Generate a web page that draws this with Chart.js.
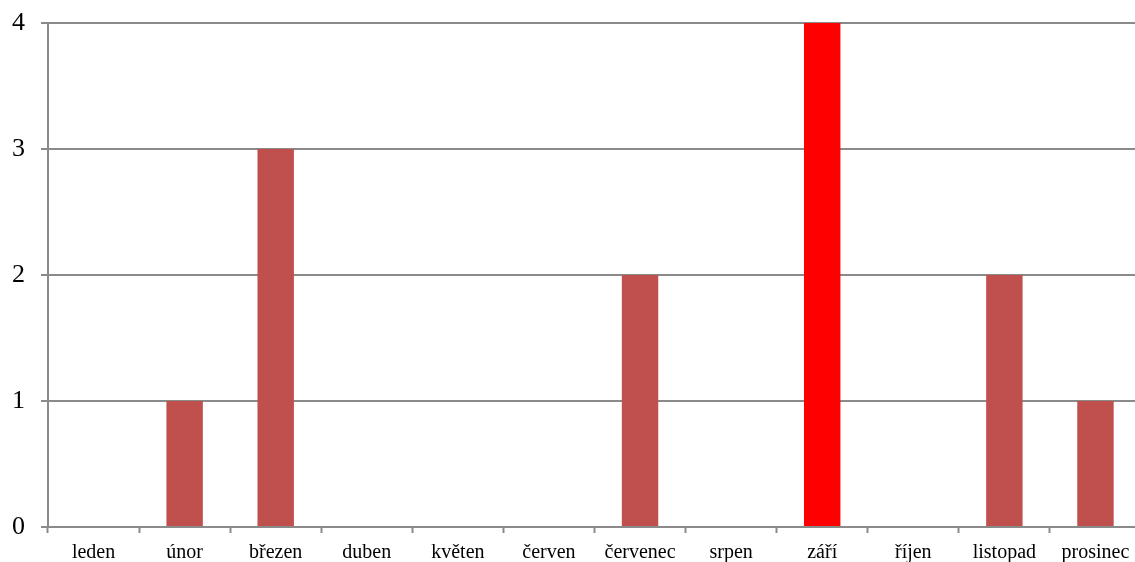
<!DOCTYPE html>
<html>
<head>
<meta charset="utf-8">
<script src="https://cdn.jsdelivr.net/npm/chart.js@4"></script>
<style>
  html, body { margin: 0; padding: 0; background: #fff; overflow: hidden; }
  #wrap { width: 1142px; height: 562px; }
</style>
</head>
<body>
<div id="wrap"><canvas id="c" width="1142" height="562"></canvas></div>
<script>
const months = ["leden", "únor", "březen", "duben", "květen", "červen", "červenec", "srpen", "září", "říjen", "listopad", "prosinec"];
const counts = [0, 1, 3, 0, 0, 0, 2, 0, 4, 0, 2, 1];
const yTicks = [0, 1, 2, 3, 4];

const highlight = 8; // září
const barColors = counts.map((v, i) => (i === highlight ? "#FF0000" : "#C0504D"));
const gridColor = "#8a8a8a";

const canvas = document.getElementById("c");
const chart = new Chart(canvas, {
    type: "bar",
    data: {
        labels: months,
        datasets: [
            {
                data: counts,
                backgroundColor: barColors,
                borderWidth: 0,
                barPercentage: 0.4,
                categoryPercentage: 1
            }
        ]
    },
    options: {
        responsive: false,
        animation: false,
        layout: { padding: { top: 23, right: 1, left: 0, bottom: 0 } },
        plugins: {
            legend: { display: false },
            tooltip: { enabled: false }
        },
        scales: {
            x: {
                grid: {
                    offset: true,
                    drawOnChartArea: false,
                    tickLength: 6,
                    tickColor: gridColor,
                    tickWidth: 2
                },
                border: { color: gridColor, width: 2 },
                ticks: {
                    color: "#000",
                    padding: 8,
                    maxRotation: 0,
                    autoSkip: false,
                    font: { family: "Liberation Serif", size: 20 }
                },
                afterFit: (s) => { s.height = 35; }
            },
            y: {
                min: yTicks[0],
                max: yTicks[yTicks.length - 1],
                afterBuildTicks: (s) => { s.ticks = yTicks.map((v) => ({ value: v })); },
                grid: {
                    color: gridColor,
                    lineWidth: 2,
                    tickLength: 7
                },
                border: { color: gridColor, width: 2 },
                ticks: {
                    color: "#000",
                    padding: 16,
                    font: { family: "Liberation Serif", size: 26 }
                },
                // fixed axis width, and no extra room above the top label
                afterFit: (s) => { s.width = 48; s.paddingTop = 0; s.paddingBottom = 0; }
            }
        }
    }
});
</script>
</body>
</html>
